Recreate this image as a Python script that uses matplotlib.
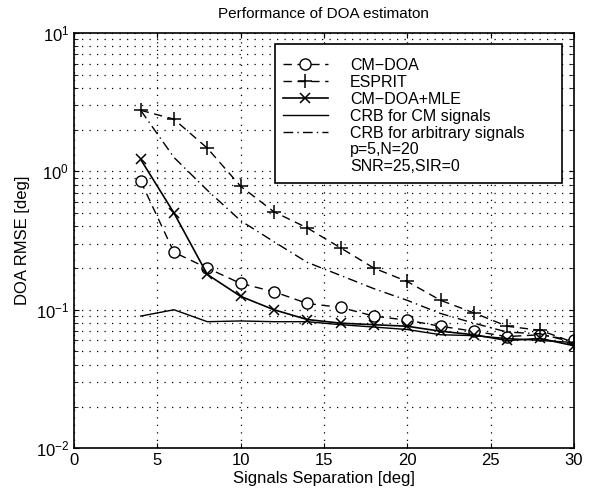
import matplotlib.pyplot as plt
from matplotlib.lines import Line2D
from matplotlib.patches import Rectangle

plt.rcParams['font.family'] = ['Liberation Sans', 'DejaVu Sans']

# data
sep = [4, 6, 8, 10, 12, 14, 16, 18, 20, 22, 24, 26, 28, 30]
cm_doa = [0.85, 0.26, 0.20, 0.155, 0.135, 0.111, 0.104, 0.090, 0.084, 0.076, 0.070, 0.064, 0.066, 0.060]
esprit = [2.76, 2.38, 1.47, 0.78, 0.51, 0.39, 0.28, 0.20, 0.16, 0.117, 0.095, 0.076, 0.071, 0.058]
cm_mle = [1.22, 0.50, 0.18, 0.125, 0.100, 0.085, 0.080, 0.078, 0.076, 0.070, 0.066, 0.060, 0.062, 0.055]
crb_cm = [0.090, 0.100, 0.082, 0.083, 0.082, 0.082, 0.078, 0.075, 0.072, 0.066, 0.065, 0.062, 0.060, 0.058]
crb_arb = [2.76, 1.26, 0.73, 0.44, 0.31, 0.22, 0.177, 0.142, 0.117, 0.094, 0.080, 0.069, 0.067, 0.058]

fig = plt.figure(figsize=(5.94, 4.98), dpi=100)
ax = fig.add_axes([0.1246, 0.100, 0.8414, 0.834])

ax.semilogy(sep, cm_doa, color='k', lw=1, ls=(0, (6, 4)), marker='o', ms=8,
            mfc='white', mec='k', label='CM\u2212DOA')
ax.semilogy(sep, esprit, color='k', lw=1, ls=(0, (6, 4)), marker='+', ms=10,
            mew=1.1, label='ESPRIT')
ax.semilogy(sep, cm_mle, color='k', lw=1.2, ls='-', marker='x', ms=7,
            mew=1.1, label='CM\u2212DOA+MLE')
ax.semilogy(sep, crb_cm, color='k', lw=1, ls='-', label='CRB for CM signals')
ax.semilogy(sep, crb_arb, color='k', lw=1, ls=(0, (7, 3, 1, 3)),
            label='CRB for arbitrary signals')

ax.set_xlim(0, 30)
ax.set_ylim(1e-2, 1e1)
ax.set_xticks([0, 5, 10, 15, 20, 25, 30])
ax.tick_params(which='both', direction='in', top=True, right=True, labelsize=12)
ax.tick_params(which='minor', length=3)
ax.grid(True, which='major', ls=(0, (1, 5)), color='k', lw=0.9)
ax.grid(True, which='minor', axis='y', ls=(0, (1, 5)), color='k', lw=0.9)
for s in ax.spines.values():
    s.set_linewidth(1.2)

ax.set_xlabel('Signals Separation [deg]', fontsize=12, labelpad=2)
ax.set_ylabel('DOA RMSE [deg]', fontsize=12)
ax.set_title('Performance of DOA estimaton', fontsize=11, pad=11)

# legend box drawn separately so its padding matches the original
box = Rectangle((0.402, 0.6386), 0.574, 0.335, transform=ax.transAxes,
                facecolor='white', edgecolor='k', lw=1.2, zorder=4)
ax.add_patch(box)

handles, labels = ax.get_legend_handles_labels()
blank = Line2D([], [], color='none')
handles += [blank, blank]
labels += ['p=5,N=20', 'SNR=25,SIR=0']
leg = ax.legend(handles, labels, loc='upper left', bbox_to_anchor=(0.402, 0.959, 0.574, 0.0),
                mode='expand', borderaxespad=0, fontsize=11.5, frameon=False,
                handlelength=2.8, labelspacing=0.12, handletextpad=1.4, borderpad=0.5)
leg.set_zorder(5)

fig.savefig('out.png', dpi=100)
